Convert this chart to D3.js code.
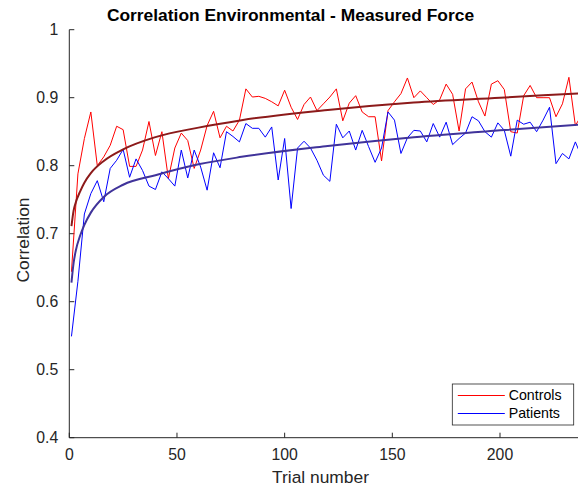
<!DOCTYPE html>
<html>
<head>
<meta charset="utf-8">
<script src="https://cdn.jsdelivr.net/npm/d3@7"></script>
<style>
  body { margin: 0; background: #fff; }
  svg { display: block; font-family: "Liberation Sans", Arial, sans-serif; }
</style>
</head>
<body>
<svg id="chart"></svg>
<script>
// trial numbers (one point every 3 trials)
const trials = [1, 4, 7, 10, 13, 16, 19, 22, 25, 28, 31, 34, 37, 40, 43, 46, 49, 52, 55, 58,
  61, 64, 67, 70, 73, 76, 79, 82, 85, 88, 91, 94, 97, 100, 103, 106, 109, 112, 115, 118,
  121, 124, 127, 130, 133, 136, 139, 142, 145, 148, 151, 154, 157, 160, 163, 166, 169, 172, 175, 178,
  181, 184, 187, 190, 193, 196, 199, 202, 205, 208, 211, 214, 217, 220, 223, 226, 229, 232, 235, 238];

const controls = [0.644, 0.788, 0.840, 0.879, 0.800, 0.813, 0.830, 0.858, 0.853, 0.799,
  0.799, 0.823, 0.865, 0.815, 0.850, 0.781, 0.826, 0.848, 0.837, 0.796,
  0.823, 0.859, 0.880, 0.841, 0.858, 0.851, 0.867, 0.913, 0.901, 0.902,
  0.899, 0.894, 0.888, 0.911, 0.886, 0.868, 0.890, 0.901, 0.881, 0.891,
  0.901, 0.913, 0.866, 0.892, 0.903, 0.879, 0.872, 0.872, 0.807, 0.881,
  0.894, 0.906, 0.929, 0.900, 0.910, 0.900, 0.890, 0.897, 0.920, 0.905,
  0.851, 0.913, 0.923, 0.894, 0.873, 0.920, 0.925, 0.912, 0.850, 0.848,
  0.903, 0.918, 0.900, 0.900, 0.900, 0.872, 0.891, 0.930, 0.859, 0.875];

const patients = [0.549, 0.630, 0.729, 0.759, 0.778, 0.747, 0.796, 0.808, 0.824, 0.783,
  0.810, 0.793, 0.770, 0.765, 0.791, 0.781, 0.770, 0.823, 0.782, 0.823,
  0.798, 0.764, 0.819, 0.797, 0.850, 0.843, 0.835, 0.862, 0.855, 0.855,
  0.842, 0.857, 0.779, 0.840, 0.737, 0.826, 0.836, 0.826, 0.808, 0.786,
  0.777, 0.861, 0.841, 0.851, 0.823, 0.852, 0.828, 0.805, 0.826, 0.879,
  0.867, 0.818, 0.841, 0.852, 0.851, 0.835, 0.862, 0.842, 0.864, 0.831,
  0.840, 0.848, 0.872, 0.866, 0.850, 0.842, 0.863, 0.852, 0.814, 0.867,
  0.861, 0.864, 0.850, 0.867, 0.886, 0.803, 0.818, 0.810, 0.835, 0.812];

// fitted curves at a few trial numbers
const fitTrials = [1, 2, 3, 5, 7, 10, 16, 25, 40, 60, 80, 120, 160, 200, 240];
const controlsFit = [0.711, 0.734, 0.746, 0.762, 0.775, 0.789, 0.807, 0.824, 0.842, 0.856, 0.867, 0.882, 0.893, 0.900, 0.907];
const patientsFit = [0.628, 0.657, 0.675, 0.697, 0.713, 0.731, 0.754, 0.772, 0.786, 0.802, 0.813, 0.829, 0.842, 0.852, 0.861];

const xTicks = [0, 50, 100, 150, 200];
const yTicks = [0.4, 0.5, 0.6, 0.7, 0.8, 0.9, 1];
const seriesNames = ["Controls", "Patients"];

const width = 578, height = 492;
const plotLeft = 69.3, plotTop = 29.7, plotBottom = 437.7;

const svg = d3.select("#chart")
  .attr("width", width)
  .attr("height", height);

const x = d3.scaleLinear().domain([0, 240]).range([plotLeft, plotLeft + 240 * 2.1535]);
const y = d3.scaleLinear().domain([0.4, 1]).range([plotBottom, plotTop]);

svg.append("defs").append("clipPath").attr("id", "plot-clip")
  .append("rect")
  .attr("x", plotLeft).attr("y", plotTop - 5)
  .attr("width", 600).attr("height", plotBottom - plotTop + 5);

// axes, ticks pointing inward like matlab
const xAxis = svg.append("g")
  .attr("transform", `translate(0,${plotBottom})`)
  .call(d3.axisBottom(x).tickValues(xTicks).tickSizeInner(-5).tickSizeOuter(0).tickPadding(11).offset(0));
const yAxis = svg.append("g")
  .attr("transform", `translate(${plotLeft},0)`)
  .call(d3.axisLeft(y).tickValues(yTicks).tickFormat(d3.format("~g")).tickSizeInner(-5).tickSizeOuter(0).tickPadding(11).offset(0));

[xAxis, yAxis].forEach(g => {
  g.select(".domain").attr("stroke", "#262626");
  g.selectAll(".tick line").attr("stroke", "#262626");
  g.selectAll(".tick text")
    .attr("fill", "#262626")
    .style("font-size", "15.8px")
    .style("font-family", "'Liberation Sans', Arial, sans-serif");
});

const plot = svg.append("g").attr("clip-path", "url(#plot-clip)");

const rawLine = d3.line()
  .x((d, i) => x(trials[i]))
  .y(d => y(d));
const fitLine = d3.line()
  .x((d, i) => x(fitTrials[i]))
  .y(d => y(d))
  .curve(d3.curveMonotoneX);

plot.append("path").datum(controls)
  .attr("d", rawLine).attr("fill", "none")
  .attr("stroke", "#ff0000").attr("stroke-width", 1);
plot.append("path").datum(patients)
  .attr("d", rawLine).attr("fill", "none")
  .attr("stroke", "#0000ff").attr("stroke-width", 1);
plot.append("path").datum(controlsFit)
  .attr("d", fitLine).attr("fill", "none")
  .attr("stroke", "#8c1a1a").attr("stroke-width", 2);
plot.append("path").datum(patientsFit)
  .attr("d", fitLine).attr("fill", "none")
  .attr("stroke", "#40339a").attr("stroke-width", 2);

// title and labels
svg.append("text")
  .attr("x", 290.5).attr("y", 21)
  .attr("text-anchor", "middle")
  .style("font-size", "17.4px").style("font-weight", "bold")
  .attr("fill", "#000")
  .text("Correlation Environmental - Measured Force");

svg.append("text")
  .attr("x", 320.5).attr("y", 483)
  .attr("text-anchor", "middle")
  .style("font-size", "17.4px")
  .attr("fill", "#262626")
  .text("Trial number");

svg.append("text")
  .attr("transform", "translate(28.5,240) rotate(-90)")
  .attr("text-anchor", "middle")
  .style("font-size", "17.4px")
  .attr("fill", "#262626")
  .text("Correlation");

// legend
const legendColors = ["#ff0000", "#0000ff"];
const legend = svg.append("g").attr("transform", "translate(452.3,384)");
legend.append("rect")
  .attr("width", 121.4).attr("height", 41)
  .attr("fill", "#fff").attr("stroke", "#262626").attr("stroke-width", 0.8);

seriesNames.forEach((name, i) => {
  const ly = 11.5 + i * 18;
  legend.append("line")
    .attr("x1", 5.5).attr("x2", 52.5)
    .attr("y1", ly).attr("y2", ly)
    .attr("stroke", legendColors[i]).attr("stroke-width", 1);
  legend.append("text")
    .attr("x", 56.4).attr("y", ly)
    .attr("dy", "0.35em")
    .style("font-size", "14.2px")
    .attr("fill", "#000")
    .text(name);
});
</script>
</body>
</html>
